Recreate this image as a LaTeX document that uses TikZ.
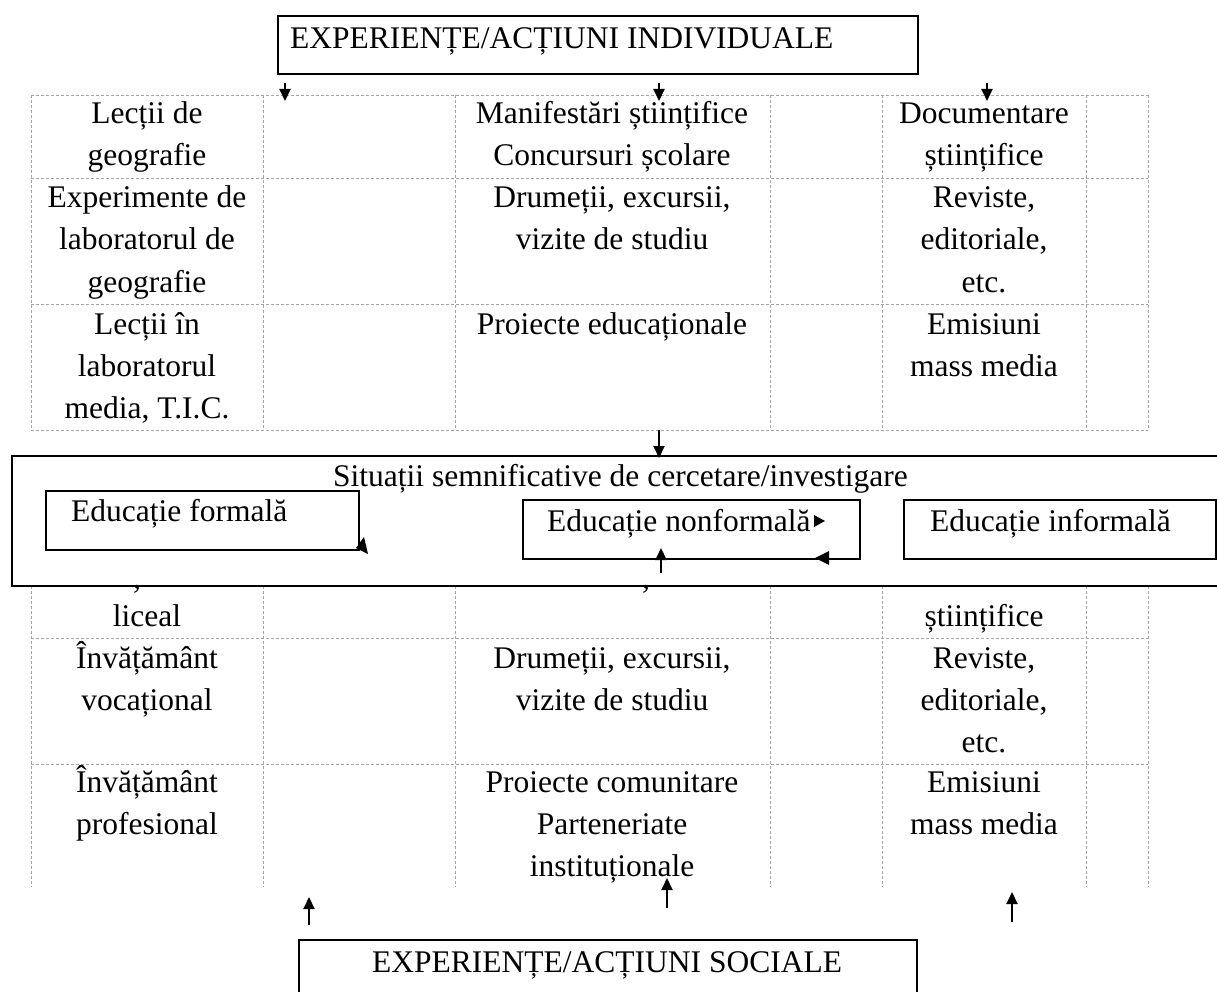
\documentclass[tikz,border=0pt]{standalone}
\usepackage{fontspec}
\setmainfont{Liberation Serif}
\usetikzlibrary{arrows.meta}
\begin{document}
\begin{tikzpicture}[x=1pt,y=-1pt,
  txt/.style={font=\fontsize{31.5}{38}\selectfont, inner sep=0pt, anchor=base},
  ltxt/.style={txt, anchor=base west},
  gridline/.style={draw=gray!70, dash pattern=on 3pt off 2pt, line width=0.8pt},
  box/.style={draw=black, line width=2.4pt, fill=white, inner sep=0pt, anchor=north west},
  arr/.style={-{Triangle[length=12pt,width=11pt]}, line width=2pt},
  headfill/.style={fill=black}]
\useasboundingbox (0,0) rectangle (1217,992);
\fill[white] (0,0) rectangle (1217,992);
\clip (0,0) rectangle (1217,992);

% ---- upper table grid
\foreach \y in {95,178,304,430} \draw[gridline] (31,\y) -- (1148,\y);
\foreach \x in {31,263,455,770,882,1086,1148} \draw[gridline] (\x,95) -- (\x,430);

% ---- lower table grid
\foreach \y in {638,764} \draw[gridline] (31,\y) -- (1148,\y);
\foreach \x in {31,263,455,770,882,1086,1148} \draw[gridline] (\x,586) -- (\x,887);

% ---- top box
\node[box, minimum width=640pt, minimum height=58pt] (top) at (277,15) {};
\node[ltxt] (toptxt) at (290,49) {EXPERIENȚE/ACȚIUNI INDIVIDUALE};

% ---- upper table texts
\node[txt] (u11a) at (147,124) {Lecții de};
\node[txt] (u11b) at (147,166) {geografie};
\node[txt] (u13a) at (612,124) {Manifestări științifice};
\node[txt] (u13b) at (612,166) {Concursuri școlare};
\node[txt] (u15a) at (984,124) {Documentare};
\node[txt] (u15b) at (984,166) {științifice};
\node[txt] (u21a) at (147,208) {Experimente de};
\node[txt] (u21b) at (147,250) {laboratorul de};
\node[txt] (u21c) at (147,292) {geografie};
\node[txt] (u23a) at (612,208) {Drumeții, excursii,};
\node[txt] (u23b) at (612,250) {vizite de studiu};
\node[txt] (u25a) at (984,208) {Reviste,};
\node[txt] (u25b) at (984,250) {editoriale,};
\node[txt] (u25c) at (984,292) {etc.};
\node[txt] (u31a) at (147,334) {Lecții în};
\node[txt] (u31b) at (147,376) {laboratorul};
\node[txt] (u31c) at (147,418) {media, T.I.C.};
\node[txt] (u33a) at (612,334) {Proiecte educaționale};
\node[txt] (u35a) at (984,334) {Emisiuni};
\node[txt] (u35b) at (984,376) {mass media};

% ---- lower table texts
\node[txt] (l11b) at (147,626) {liceal};
\node[txt] (l15b) at (984,626) {științifice};
\node[txt] (l21a) at (147,668) {Învățământ};
\node[txt] (l21b) at (147,710) {vocațional};
\node[txt] (l23a) at (612,668) {Drumeții, excursii,};
\node[txt] (l23b) at (612,710) {vizite de studiu};
\node[txt] (l25a) at (984,668) {Reviste,};
\node[txt] (l25b) at (984,710) {editoriale,};
\node[txt] (l25c) at (984,752) {etc.};
\node[txt] (l31a) at (147,792) {Învățământ};
\node[txt] (l31b) at (147,834) {profesional};
\node[txt] (l33a) at (612,792) {Proiecte comunitare};
\node[txt] (l33b) at (612,834) {Parteneriate};
\node[txt] (l33c) at (612,876) {instituționale};
\node[txt] (l35a) at (984,792) {Emisiuni};
\node[txt] (l35b) at (984,834) {mass media};

% ---- big box with inner boxes
\node[box, minimum width=1230pt, minimum height=130pt] (big) at (11,455) {};
\node[ltxt] (bigtxt) at (333,486) {Situații semnificative de cercetare/investigare};
\node[box, minimum width=313pt, minimum height=59pt] (formal) at (45,490) {};
\node[ltxt] (formaltxt) at (71,521) {Educație formală};
\node[box, minimum width=337pt, minimum height=59pt] (nonformal) at (522,499) {};
\node[ltxt] (nonformaltxt) at (547,531) {Educație nonformală};
\node[box, minimum width=312pt, minimum height=59pt] (informal) at (903,499) {};
\node[ltxt] (informaltxt) at (930,531) {Educație informală};

% accent marks peeking below the big box
\node[txt] (cm1) at (137,588) {,};
\node[txt] (cm2) at (646,588) {,};

% stray arrowheads
\fill[headfill] (356,548) -- (364,537) -- (368,554) -- cycle;
\fill[headfill] (814,515) -- (814,527) -- (825,521) -- cycle;
\fill[headfill] (815,558) -- (829,551) -- (829,565) -- cycle;

% ---- bottom box
\node[box, minimum width=618pt, minimum height=80pt] (bottom) at (298,939) {};
\node[ltxt] (bottomtxt) at (372,972) {EXPERIENȚE/ACȚIUNI SOCIALE};

% ---- arrows
\coordinate (a1s) at (285,83);  \coordinate (a1e) at (285,101);
\coordinate (a2s) at (659,83);  \coordinate (a2e) at (659,101);
\coordinate (a3s) at (987,83);  \coordinate (a3e) at (987,101);
\coordinate (a4s) at (659,430); \coordinate (a4e) at (659,458);
\coordinate (a5s) at (661,573); \coordinate (a5e) at (661,548);
\coordinate (b1s) at (309,925); \coordinate (b1e) at (309,897);
\coordinate (b2s) at (667,908); \coordinate (b2e) at (667,878);
\coordinate (b3s) at (1012,922); \coordinate (b3e) at (1012,892);
\foreach \p in {a1,a2,a3,a4,a5,b1,b2,b3} \draw[arr] (\p s) -- (\p e);
\end{tikzpicture}
\end{document}
